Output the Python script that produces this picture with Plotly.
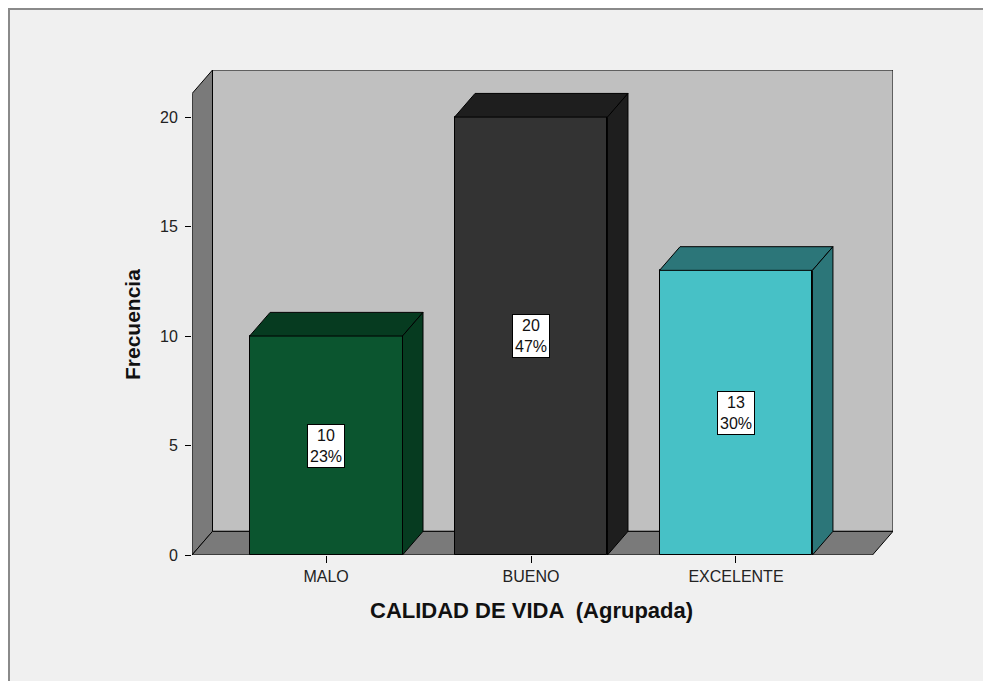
import plotly.graph_objects as go

# --- Data ---
categories = ["MALO", "BUENO", "EXCELENTE"]
counts = [10, 20, 13]
percents = ["23%", "47%", "30%"]

# --- Style ---
PAPER = "#F0F0F0"
BACK_WALL = "#C0C0C0"
SIDE_WALL = "#7A7A7A"
FRONT_COLORS = ["#0B552F", "#333333", "#47C1C6"]
SHADE_COLORS = ["#063B20", "#1E1E1E", "#2C7679"]
FONT = "Arial, Liberation Sans, sans-serif"

# page draws the figure 8px in from the corner, so shrink to fit the window
OFF = 8
W, H = 991 - OFF, 681 - OFF
ML, MT = 192 - OFF, 70 - OFF
MR, MB = W - (893 - OFF), H - (555 - OFF)

X_MIN, X_MAX = -0.654, 2.766
Y_MIN, Y_MAX = 0, 22.15
DX, DY = 0.1, 1.08      # fake depth of the 3D look
BAR_W = 0.746

x_pos = list(range(len(categories)))

fig = go.Figure()

# front faces
fig.add_trace(go.Bar(
    x=x_pos, y=counts, width=BAR_W,
    marker=dict(color=FRONT_COLORS, line=dict(color="black", width=1)),
    hoverinfo="skip", showlegend=False
))

# tops and right sides of the bars
for i, v in enumerate(counts):
    l, r = x_pos[i] - BAR_W / 2, x_pos[i] + BAR_W / 2
    fig.add_trace(go.Scatter(
        x=[l, l + DX, r + DX, r, l], y=[v, v + DY, v + DY, v, v],
        fill="toself", fillcolor=SHADE_COLORS[i], mode="lines",
        line=dict(color="black", width=1), hoverinfo="skip", showlegend=False
    ))
    fig.add_trace(go.Scatter(
        x=[r, r + DX, r + DX, r, r], y=[0, DY, v + DY, v, 0],
        fill="toself", fillcolor=SHADE_COLORS[i], mode="lines",
        line=dict(color="black", width=1), hoverinfo="skip", showlegend=False
    ))
    fig.add_annotation(
        x=x_pos[i], y=v / 2, text=f"{v}<br>{percents[i]}",
        showarrow=False, bgcolor="white", bordercolor="black", borderwidth=1,
        borderpad=2, font=dict(family=FONT, size=16, color="#111")
    )

# walls (behind the bars)
def path(pts):
    return "M " + " L ".join(f"{a},{b}" for a, b in pts) + " Z"

fig.add_shape(type="path", layer="below", fillcolor=BACK_WALL,
              line=dict(color="black", width=1),
              path=path([(X_MIN + DX, DY), (X_MIN + DX, Y_MAX), (X_MAX, Y_MAX), (X_MAX, DY)]))
fig.add_shape(type="path", layer="below", fillcolor=SIDE_WALL,
              line=dict(color="black", width=1),
              path=path([(X_MIN, 0), (X_MIN + DX, DY), (X_MIN + DX, Y_MAX), (X_MIN, Y_MAX - DY)]))
fig.add_shape(type="path", layer="below", fillcolor=SIDE_WALL,
              line=dict(color="black", width=1),
              path=path([(X_MIN, 0), (X_MIN + DX, DY), (X_MAX, DY), (X_MAX - DX, 0)]))

# figure pixel -> paper coords
def px_x(p):
    return (p - ML) / (W - ML - MR)

def px_y(p):
    return (H - MB - p) / (H - MT - MB)

# window border
fig.add_shape(type="rect", xref="paper", yref="paper", layer="below",
              x0=px_x(1), x1=px_x(W + 20), y0=px_y(H + 20), y1=px_y(1),
              line=dict(color="#8A8A8A", width=2), fillcolor="rgba(0,0,0,0)")

# axis titles
fig.add_annotation(
    text="<b>CALIDAD DE VIDA  (Agrupada)</b>", xref="paper", yref="paper",
    x=px_x(531 - OFF), y=px_y(610 - OFF), xanchor="center", yanchor="middle",
    showarrow=False, font=dict(family=FONT, size=22, color="#111")
)
fig.add_annotation(
    text="<b>Frecuencia</b>", xref="paper", yref="paper", textangle=-90,
    x=px_x(132 - OFF), y=px_y(325 - OFF), xanchor="center", yanchor="middle",
    showarrow=False, font=dict(family=FONT, size=21, color="#111")
)

fig.update_xaxes(
    range=[X_MIN, X_MAX], tickvals=x_pos, ticktext=categories,
    ticks="outside", ticklen=7, tickcolor="black", showgrid=False,
    zeroline=False, showline=False,
    tickfont=dict(family=FONT, size=16, color="#222")
)
fig.update_yaxes(
    range=[Y_MIN, Y_MAX], tickvals=[0, 5, 10, 15, 20],
    ticks="outside", ticklen=6, tickcolor="black", showgrid=False,
    zeroline=False, showline=False, ticklabelstandoff=4,
    tickfont=dict(family=FONT, size=16, color="#222")
)

fig.update_layout(
    width=W, height=H,
    margin=dict(l=ML, r=MR, t=MT, b=MB),
    paper_bgcolor=PAPER, plot_bgcolor=PAPER,
    bargap=0, showlegend=False
)

fig.write_html("out.html")
